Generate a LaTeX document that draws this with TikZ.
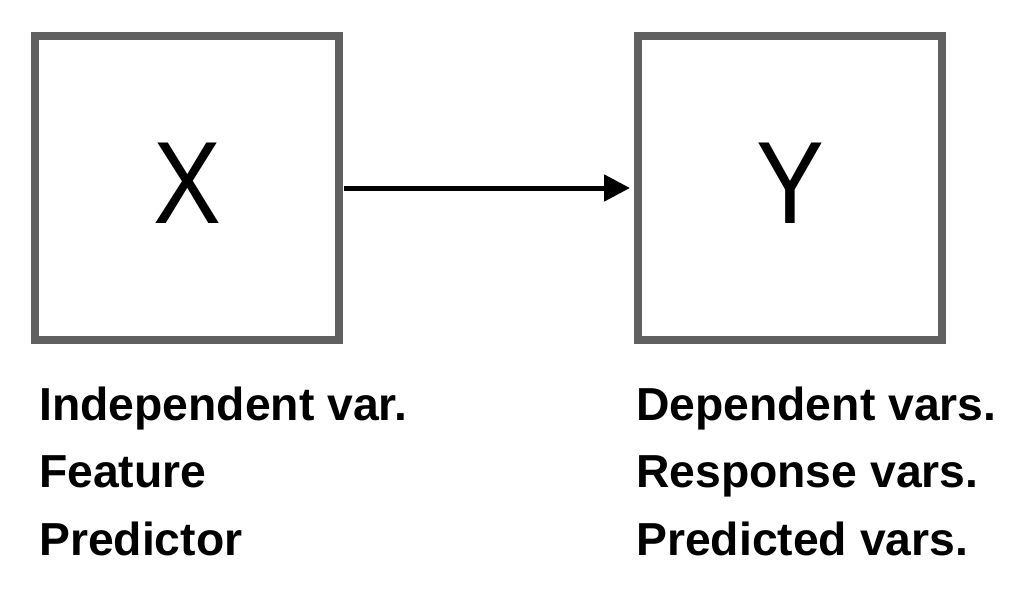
\documentclass[tikz,border=0pt]{standalone}
\usepackage{fontspec}
\setmainfont{Liberation Sans}
\newfontfamily\letterfont[FakeStretch=0.87]{Liberation Sans}
\usetikzlibrary{arrows.meta}
\usetikzlibrary{positioning}
\definecolor{boxgray}{HTML}{606060}

\tikzset{
  varbox/.style={rectangle,draw=boxgray,line width=8pt,minimum width=304pt,minimum height=304pt,inner sep=0pt},
  varletter/.style={font=\letterfont\fontsize{117}{120}\selectfont,text=black,inner sep=0pt,anchor=base},
  varlabel/.style={font=\fontsize{46.3}{50}\selectfont\bfseries,text=black,inner sep=0pt,anchor=base west},
  maparrow/.style={draw=black,line width=5pt,-{Triangle[length=26pt,width=26pt]}}
}

\begin{document}
\begin{tikzpicture}[x=1pt,y=-1pt]
\useasboundingbox (0,0) rectangle (1014,598);

% the two variable boxes
\node[varbox] (X) at (187,188) {};
\node[varbox] (Y) at (790,188) {};
\node[varletter] (xletter) at (187,223) {X};
\node[varletter] (yletter) at (790,223) {Y};

\draw[maparrow,shorten <=1pt,shorten >=4pt] (X) -- (Y);

% names under the boxes
\node[varlabel] (indep) at (39,420) {Independent var.};
\node[varlabel] (feat) at (39,487.5) {Feature};
\node[varlabel] (pred) at (39,555) {Predictor};

\node[varlabel] (dep) at (636,420) {Dependent vars.};
\node[varlabel] (resp) at (636,487.5) {Response vars.};
\node[varlabel] (predd) at (636,555) {Predicted vars.};

\end{tikzpicture}
\end{document}
